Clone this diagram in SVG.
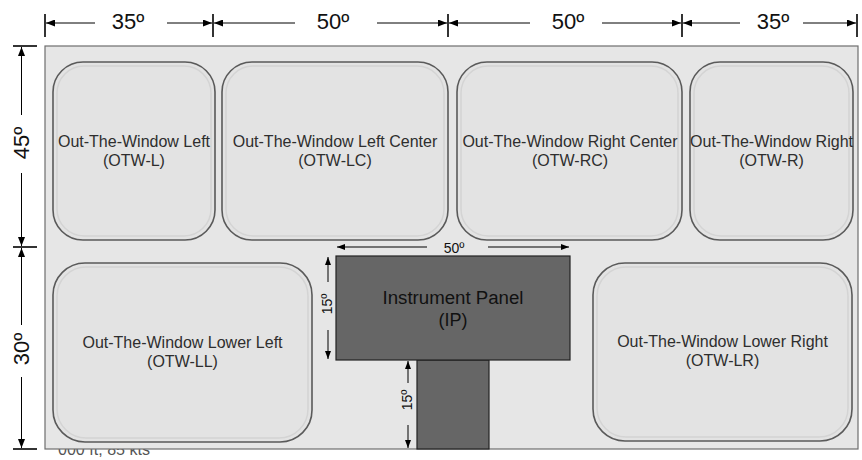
<svg xmlns="http://www.w3.org/2000/svg" width="862" height="460" viewBox="0 0 862 460">
<style>
.bg{fill:#e6e6e6;stroke:#6e6e6e;stroke-width:1.2}
.win{fill:#e3e3e3;stroke:#5a5a5a;stroke-width:1.6}
.winin{fill:none;stroke:#d4d4d4;stroke-width:1.5}
.lbl{font-family:"Liberation Sans",Arial,sans-serif;font-size:16px;fill:#2e2e2e;text-anchor:middle}
.ip{fill:#666666;stroke:#222222;stroke-width:1.2}
.iplbl{font-family:"Liberation Sans",Arial,sans-serif;font-size:18px;fill:#111111;text-anchor:middle}
.tick{stroke:#000;stroke-width:1.6}
.dl{stroke:#000;stroke-width:1;marker-end:url(#ah)}
.dls{stroke:#000;stroke-width:1;marker-end:url(#ahs)}
.big{font-family:"Liberation Sans",Arial,sans-serif;font-size:22px;fill:#111;text-anchor:middle}
.small{font-family:"Liberation Sans",Arial,sans-serif;font-size:14px;fill:#111;text-anchor:middle}
.foot{font-family:"Liberation Sans",Arial,sans-serif;font-size:16px;fill:#555}
</style>
<defs>
<marker id="ah" markerUnits="userSpaceOnUse" markerWidth="9" markerHeight="7" refX="9" refY="3.5" orient="auto"><path d="M0,0 L9,3.5 L0,7 z" fill="#000"/></marker>
<marker id="ahs" markerUnits="userSpaceOnUse" markerWidth="8" markerHeight="6" refX="8" refY="3" orient="auto"><path d="M0,0 L8,3 L0,6 z" fill="#000"/></marker>
</defs>
<rect width="862" height="460" fill="#ffffff"/>
<text class="foot" x="58" y="455" textLength="92" lengthAdjust="spacingAndGlyphs">000 ft, 85 kts</text>
<rect id="field" class="bg" x="45" y="46" width="813" height="403"/>

<g id="otw-l">
<rect class="win" x="53" y="62" width="162" height="178" rx="30" ry="30"/>
<rect class="winin" x="57" y="66" width="154" height="170" rx="27" ry="27"/>
<text class="lbl" x="134" y="147">Out-The-Window Left</text>
<text class="lbl" x="134" y="166">(OTW-L)</text>
</g>
<g id="otw-lc">
<rect class="win" x="222" y="62" width="226" height="178" rx="30" ry="30"/>
<rect class="winin" x="226" y="66" width="218" height="170" rx="27" ry="27"/>
<text class="lbl" x="335" y="147">Out-The-Window Left Center</text>
<text class="lbl" x="335" y="166">(OTW-LC)</text>
</g>
<g id="otw-rc">
<rect class="win" x="457" y="62" width="225" height="178" rx="30" ry="30"/>
<rect class="winin" x="461" y="66" width="217" height="170" rx="27" ry="27"/>
<text class="lbl" x="570" y="147">Out-The-Window Right Center</text>
<text class="lbl" x="570" y="166">(OTW-RC)</text>
</g>
<g id="otw-r">
<rect class="win" x="690" y="62" width="163" height="178" rx="30" ry="30"/>
<rect class="winin" x="694" y="66" width="155" height="170" rx="27" ry="27"/>
<text class="lbl" x="771.5" y="147" textLength="163" lengthAdjust="spacingAndGlyphs">Out-The-Window Right</text>
<text class="lbl" x="771.5" y="166">(OTW-R)</text>
</g>
<g id="otw-ll">
<rect class="win" x="53" y="263" width="259" height="179" rx="32" ry="32"/>
<rect class="winin" x="57" y="267" width="251" height="171" rx="29" ry="29"/>
<text class="lbl" x="182.5" y="348">Out-The-Window Lower Left</text>
<text class="lbl" x="182.5" y="367">(OTW-LL)</text>
</g>
<g id="otw-lr">
<rect class="win" x="593" y="263" width="259" height="178" rx="32" ry="32"/>
<rect class="winin" x="597" y="267" width="251" height="170" rx="29" ry="29"/>
<text class="lbl" x="722.5" y="347">Out-The-Window Lower Right</text>
<text class="lbl" x="722.5" y="366">(OTW-LR)</text>
</g>
<g id="ip-stem">
<rect class="ip" x="417" y="360" width="72" height="89"/>
</g>
<g id="ip">
<rect class="ip" x="336" y="256" width="234" height="104"/>
<text class="iplbl" x="453" y="304" textLength="141" lengthAdjust="spacingAndGlyphs">Instrument Panel</text>
<text class="iplbl" x="453" y="326">(IP)</text>
</g>

<g id="connectors">
<line class="tick" x1="45" y1="14" x2="45" y2="37"/>
<line class="tick" x1="213" y1="14" x2="213" y2="37"/>
<line class="tick" x1="448" y1="14" x2="448" y2="37"/>
<line class="tick" x1="682" y1="14" x2="682" y2="37"/>
<line class="tick" x1="857" y1="14" x2="857" y2="37"/>
<line class="dl" x1="95" y1="23" x2="46" y2="23"/>
<line class="dl" x1="167" y1="23" x2="212" y2="23"/>
<line class="dl" x1="295" y1="23" x2="214" y2="23"/>
<line class="dl" x1="377" y1="23" x2="447" y2="23"/>
<line class="dl" x1="530" y1="23" x2="449" y2="23"/>
<line class="dl" x1="602" y1="23" x2="681" y2="23"/>
<line class="dl" x1="740" y1="23" x2="683" y2="23"/>
<line class="dl" x1="803" y1="23" x2="856" y2="23"/>
<text class="big" x="128" y="29">35º</text>
<text class="big" x="333" y="29">50º</text>
<text class="big" x="568" y="29">50º</text>
<text class="big" x="773" y="29">35º</text>
<line class="tick" x1="13" y1="46" x2="37" y2="46"/>
<line class="tick" x1="13" y1="247" x2="37" y2="247"/>
<line class="tick" x1="13" y1="449" x2="37" y2="449"/>
<line class="dl" x1="21.5" y1="115" x2="21.5" y2="47"/>
<line class="dl" x1="21.5" y1="173" x2="21.5" y2="246"/>
<line class="dl" x1="21.5" y1="325" x2="21.5" y2="248"/>
<line class="dl" x1="21.5" y1="377" x2="21.5" y2="448"/>
<text class="big" transform="translate(29,143) rotate(-90)">45º</text>
<text class="big" transform="translate(29,349) rotate(-90)">30º</text>
<line class="dls" x1="427" y1="247" x2="337" y2="247"/>
<line class="dls" x1="488" y1="247" x2="569" y2="247"/>
<text class="small" x="454" y="253">50º</text>
<line class="dls" x1="328" y1="282" x2="328" y2="257"/>
<line class="dls" x1="328" y1="330" x2="328" y2="359"/>
<text class="small" transform="translate(332,304) rotate(-90)">15º</text>
<line class="dls" x1="408" y1="383" x2="408" y2="361"/>
<line class="dls" x1="408" y1="425" x2="408" y2="448"/>
<text class="small" transform="translate(412,400) rotate(-90)">15º</text>
</g>
</svg>
